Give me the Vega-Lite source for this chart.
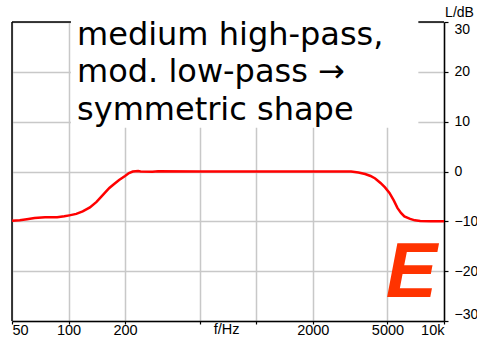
{
  "$schema": "https://vega.github.io/schema/vega-lite/v6.json",
  "width": 432,
  "height": 299,
  "autosize": {"type": "none"},
  "padding": {"left": 12, "top": 22, "right": 33, "bottom": 16},
  "background": "white",
  "config": {
    "view": {"stroke": null},
    "axis": {"labelFont": "Liberation Sans", "labelColor": "black", "titleFont": "Liberation Sans", "titleFontWeight": "normal", "titleColor": "black"}
  },
  "datasets": {
    "curve": [
      {"f": 50, "L": -9.9}, {"f": 55, "L": -9.8}, {"f": 60, "L": -9.6}, {"f": 66, "L": -9.35},
      {"f": 75, "L": -9.2}, {"f": 87, "L": -9.2}, {"f": 95, "L": -9.0}, {"f": 101, "L": -8.8},
      {"f": 110, "L": -8.5}, {"f": 119, "L": -8.0}, {"f": 130, "L": -7.2}, {"f": 141, "L": -6.1},
      {"f": 150, "L": -5.0}, {"f": 165, "L": -3.3}, {"f": 175, "L": -2.5}, {"f": 186, "L": -1.7},
      {"f": 200, "L": -0.9}, {"f": 210, "L": -0.3}, {"f": 220, "L": 0}, {"f": 235, "L": 0.1},
      {"f": 242, "L": 0}, {"f": 280, "L": -0.05}, {"f": 300, "L": 0.05}, {"f": 500, "L": 0},
      {"f": 1000, "L": 0}, {"f": 2000, "L": 0}, {"f": 3200, "L": 0}, {"f": 3500, "L": -0.2},
      {"f": 3800, "L": -0.5}, {"f": 4062, "L": -0.9}, {"f": 4300, "L": -1.4}, {"f": 4590, "L": -2.3},
      {"f": 4850, "L": -3.2}, {"f": 5124, "L": -4.3}, {"f": 5400, "L": -5.8}, {"f": 5647, "L": -7.3},
      {"f": 5900, "L": -8.3}, {"f": 6150, "L": -9.0}, {"f": 6600, "L": -9.5}, {"f": 7000, "L": -9.8},
      {"f": 7474, "L": -9.95}, {"f": 8500, "L": -10}, {"f": 10000, "L": -10}
    ],
    "frame": [
      {"f1": 50, "f2": 10000, "L1": 30, "L2": 30},
      {"f1": 50, "f2": 50, "L1": -30, "L2": 30}
    ],
    "box": [{"f1": 103, "f2": 7300, "L1": 31, "L2": 8.8}],
    "title": [
      {"f": 111, "L": 25.4, "t": "medium high-pass,"},
      {"f": 111, "L": 17.9, "t": "mod. low-pass →"},
      {"f": 111, "L": 10.4, "t": "symmetric shape"}
    ],
    "mark": [{"f": 6700, "L": -25.2, "t": "E"}],
    "xlab": [{"f": 695, "L": -30, "t": "f/Hz"}]
  },
  "layer": [
    {
      "data": {"name": "frame"},
      "mark": {"type": "rule", "color": "black", "strokeWidth": 1.5, "clip": false},
      "encoding": {
        "x": {"field": "f1", "type": "quantitative", "scale": {"type": "log", "domain": [50, 10000], "nice": false},
          "axis": {"orient": "bottom", "values": [50, 100, 200, 500, 1000, 2000, 5000, 10000],
            "labelExpr": "datum.value == 10000 ? '10k' : (datum.value == 500 || datum.value == 1000) ? '' : datum.label",
            "format": "d", "labelFlush": true, "labelBaseline": "alphabetic", "labelPadding": 10, "labelFontSize": 14.5, "tickSize": 3, "tickColor": "black", "tickWidth": 1.2,
            "domainColor": "black", "domainWidth": 1.5, "grid": true, "gridColor": "#c8c8c8", "gridWidth": 1.5, "title": null, "zindex": 0}},
        "x2": {"field": "f2"},
        "y": {"field": "L1", "type": "quantitative", "scale": {"domain": [-30, 30], "nice": false},
          "axis": {"orient": "right", "values": [-30, -20, -10, 0, 10, 20, 30], "tickSize": 4, "tickColor": "black", "tickWidth": 1.2,
            "labelPadding": 6, "labelFontSize": 14, "labelFlush": true, "labelFlushOffset": 0, "domainColor": "black", "domainWidth": 1.5, "grid": true, "gridColor": "#c8c8c8", "gridWidth": 1.5,
            "title": "L/dB", "titleFontSize": 14, "titleAngle": 0, "titleAlign": "center", "titleBaseline": "bottom", "titleX": 15, "titleY": -3, "zindex": 0}},
        "y2": {"field": "L2"}
      }
    },
    {
      "data": {"name": "box"},
      "mark": {"type": "rect", "fill": "white", "stroke": null, "clip": false},
      "encoding": {
        "x": {"field": "f1", "type": "quantitative"},
        "x2": {"field": "f2"},
        "y": {"field": "L1", "type": "quantitative"},
        "y2": {"field": "L2"}
      }
    },
    {
      "data": {"name": "curve"},
      "mark": {"type": "line", "color": "#ff0000", "strokeWidth": 2.5},
      "encoding": {
        "x": {"field": "f", "type": "quantitative"},
        "y": {"field": "L", "type": "quantitative"}
      }
    },
    {
      "data": {"name": "title"},
      "mark": {"type": "text", "font": "DejaVu Sans", "fontSize": 32, "align": "left", "baseline": "alphabetic", "color": "black"},
      "encoding": {
        "x": {"field": "f", "type": "quantitative"},
        "y": {"field": "L", "type": "quantitative"},
        "text": {"field": "t"}
      }
    },
    {
      "data": {"name": "mark"},
      "mark": {"type": "text", "font": "Liberation Sans", "fontSize": 77, "fontWeight": "bold", "fontStyle": "italic", "align": "center", "baseline": "alphabetic", "color": "#ff3300"},
      "encoding": {
        "x": {"field": "f", "type": "quantitative"},
        "y": {"field": "L", "type": "quantitative"},
        "text": {"field": "t"}
      }
    },
    {
      "data": {"name": "xlab"},
      "mark": {"type": "text", "font": "Liberation Sans", "fontSize": 14.5, "align": "center", "baseline": "alphabetic", "dy": 13, "color": "black"},
      "encoding": {
        "x": {"field": "f", "type": "quantitative"},
        "y": {"field": "L", "type": "quantitative"},
        "text": {"field": "t"}
      }
    }
  ]
}
